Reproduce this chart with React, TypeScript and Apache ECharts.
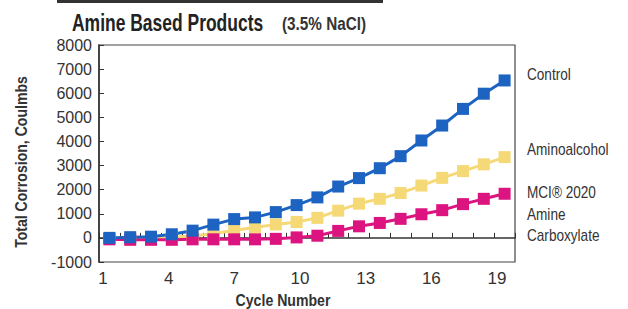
import React, { useEffect, useRef } from "react";
import * as echarts from "echarts";

const cycles = [1, 2, 3, 4, 5, 6, 7, 8, 9, 10, 11, 12, 13, 14, 15, 16, 17, 18, 19, 20];
const control = [0, 30, 50, 150, 300, 550, 780, 850, 1070, 1360, 1680, 2130, 2480, 2890, 3390, 4040, 4660, 5350, 5980, 6530];
const aminoalcohol = [0, 0, 0, 30, 80, 170, 320, 430, 560, 660, 830, 1130, 1420, 1620, 1860, 2170, 2490, 2770, 3050, 3350];
const mci2020 = [-60, -80, -80, -80, -60, -60, -60, -60, -40, 20, 90, 290, 480, 620, 790, 980, 1150, 1400, 1620, 1830];
const xTickLabels = [1, 4, 7, 10, 13, 16, 19];
const yTicks = { min: -1000, max: 8000, step: 1000 };

const FONT = '"Liberation Sans", Arial, sans-serif';

export default function App() {
  const ref = useRef<HTMLDivElement>(null);
  useEffect(() => {
    if (!ref.current) return;
    const chart = echarts.init(ref.current, undefined, { renderer: "svg" });
    const mk = (name: string, vals: number[], color: string) => ({
      name,
      type: "line",
      xAxisIndex: 0,
      data: cycles.map((c, i) => [c, vals[i]]),
      symbol: "rect",
      symbolSize: 12,
      lineStyle: { color, width: 3 },
      itemStyle: { color },
    });
    const label = (text: string, x: number, y: number) => ({
      type: "text", x, y, scaleX: 0.85,
      style: { text, font: `16px ${FONT}`, fill: "#333", verticalAlign: "middle" },
    });
    chart.setOption({
      animation: false,
      backgroundColor: "#fff",
      grid: { left: 99, right: 113, top: 45, bottom: 47, show: true, borderColor: "#444", borderWidth: 1.2 },
      xAxis: [
        {
          type: "value",
          min: 0.5,
          max: 20.5,
          interval: 1,
          axisLine: { show: true, lineStyle: { color: "#333", width: 1.6 } },
          axisTick: { show: true, inside: true, length: 5, lineStyle: { color: "#333" } },
          axisLabel: { show: false },
          splitLine: { show: false },
        },
        {
          type: "value",
          position: "bottom",
          min: 0.82,
          max: 19.82,
          axisLine: { show: false },
          axisTick: { show: false },
          splitLine: { show: false },
          axisLabel: {
            customValues: xTickLabels,
            fontSize: 17,
            color: "#333",
            fontFamily: FONT,
            margin: 8,
          },
        },
      ],
      yAxis: {
        type: "value",
        min: yTicks.min,
        max: yTicks.max,
        interval: yTicks.step,
        axisLine: { show: true, lineStyle: { color: "#333", width: 1.6 } },
        axisTick: { show: true, inside: true, length: 5, lineStyle: { color: "#333" } },
        axisLabel: { fontSize: 16, color: "#333", fontFamily: FONT, margin: 7, formatter: (v: number) => String(v) },
        splitLine: { show: false },
      },
      series: [
        mk("Aminoalcohol", aminoalcohol, "#f6d977"),
        mk("MCI® 2020 Amine Carboxylate", mci2020, "#dc1480"),
        mk("Control", control, "#1d63c1"),
      ],
      graphic: [
        { type: "rect", shape: { x: 57, y: 0, width: 326, height: 3 }, style: { fill: "#333" } },
        {
          type: "text", x: 72, y: 23, scaleX: 0.76,
          style: { text: "Amine Based Products", font: `bold 23px ${FONT}`, fill: "#222", verticalAlign: "middle" },
        },
        {
          type: "text", x: 282, y: 24, scaleX: 0.85,
          style: { text: "(3.5% NaCl)", font: `bold 18px ${FONT}`, fill: "#333", verticalAlign: "middle" },
        },
        {
          type: "text", x: 21, y: 162, rotation: Math.PI / 2, scaleX: 0.88,
          style: { text: "Total Corrosion, Coulmbs", font: `bold 16px ${FONT}`, fill: "#333", align: "center", verticalAlign: "middle" },
        },
        {
          type: "text", x: 283, y: 300, scaleX: 0.83,
          style: { text: "Cycle Number", font: `bold 17px ${FONT}`, fill: "#333", align: "center", verticalAlign: "middle" },
        },
        label("Control", 527, 75),
        label("Aminoalcohol", 527, 150),
        label("MCI® 2020", 527, 193),
        label("Amine", 527, 215),
        label("Carboxylate", 527, 236),
      ],
    });
    return () => chart.dispose();
  }, []);
  return <div ref={ref} style={{ width: 628, height: 309, position: "absolute", left: 0, top: 0 }} />;
}
